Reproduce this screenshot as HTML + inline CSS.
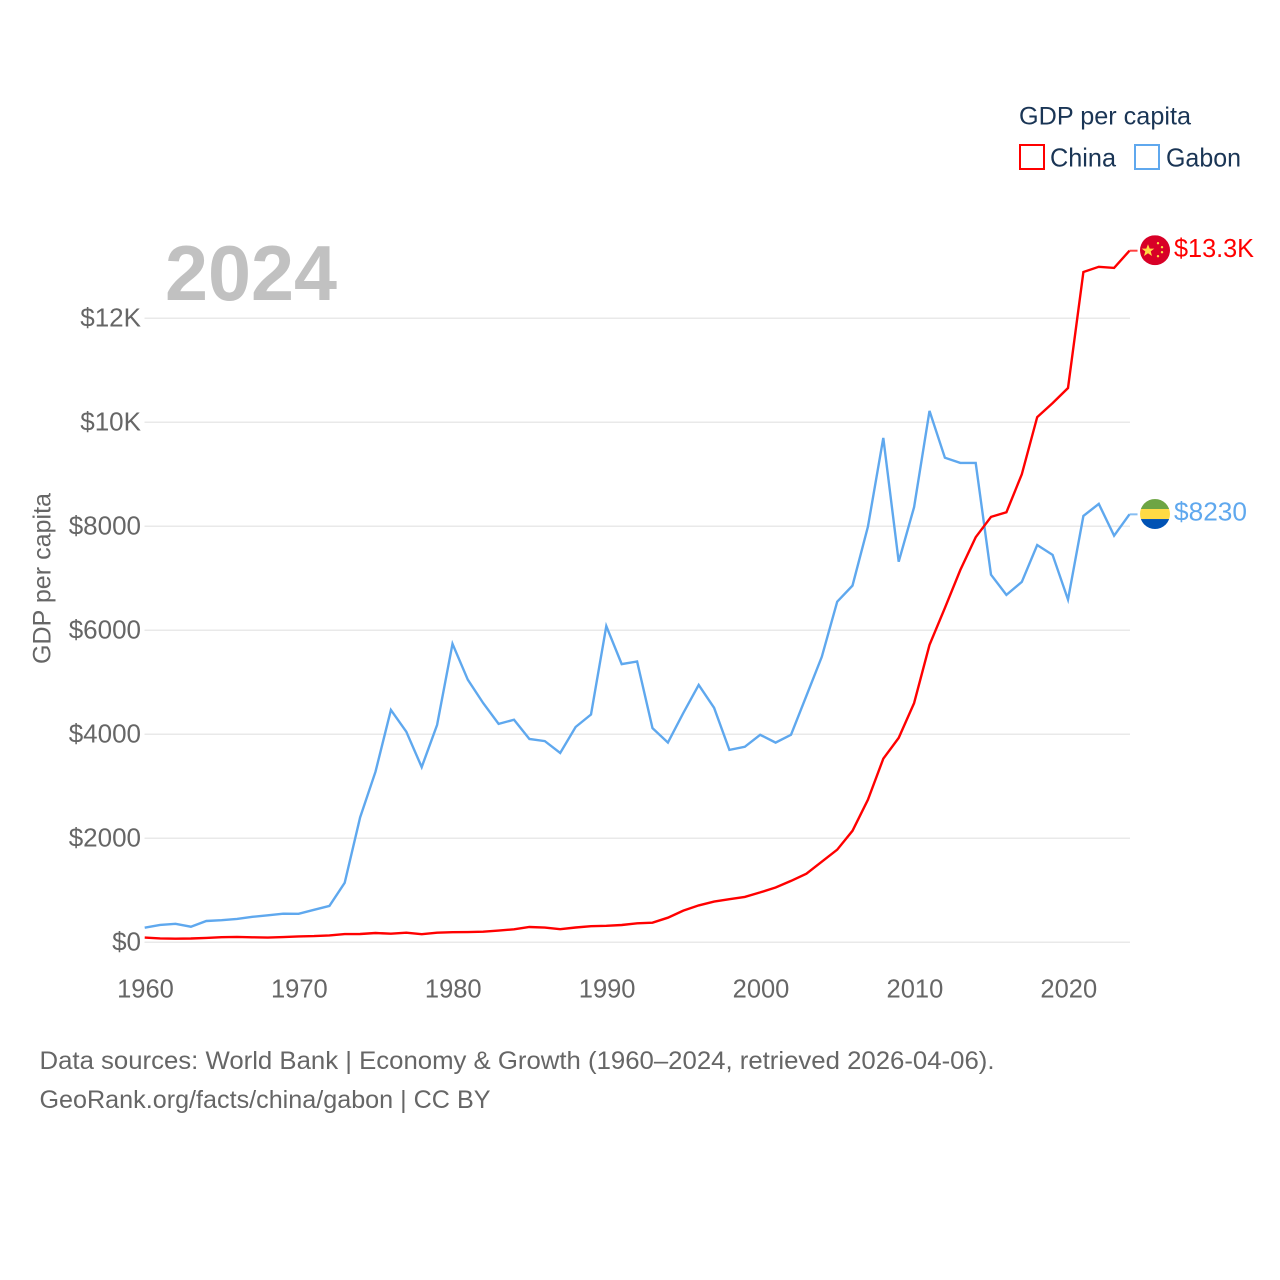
<!DOCTYPE html>
<html lang="en">
<head>
<meta charset="utf-8">
<title>GDP per capita: China and Gabon</title>
<style>
html,body{margin:0;padding:0;background:#fff}
svg{display:block}
text{font-family:"Liberation Sans",sans-serif}
</style>
</head>
<body>
<svg id="chart" xmlns="http://www.w3.org/2000/svg" width="1280" height="1280" viewBox="0 0 1280 1280">
  <defs>
    <clipPath id="flag-clip"><circle cx="0" cy="0" r="15"/></clipPath>
  </defs>
  <rect width="1280" height="1280" fill="#fff"/>
  <g id="grid"></g>
  <text x="165" y="300" font-size="78" font-weight="700" fill="#c1c1c1" textLength="172" lengthAdjust="spacingAndGlyphs">2024</text>
  <g id="y-ticks"></g>
  <g id="x-ticks"></g>
  <text transform="translate(50.500,664) rotate(-90)" font-size="25" fill="#666" textLength="171" lengthAdjust="spacingAndGlyphs">GDP per capita</text>
  <g id="series"></g>
  <g id="end-markers"></g>

  <g>
    <text x="1019" y="124.500" font-size="25" fill="#1a3555" textLength="172" lengthAdjust="spacingAndGlyphs">GDP per capita</text>
    <g>
      <rect x="1020" y="145" width="24" height="24" fill="none" stroke="#ff0000" stroke-width="2"/>
      <text x="1050" y="166.500" font-size="26" fill="#1a3555" textLength="66" lengthAdjust="spacingAndGlyphs">China</text>
    </g>
    <g>
      <rect x="1135" y="145" width="24" height="24" fill="none" stroke="#5fa8ee" stroke-width="2"/>
      <text x="1166" y="166.500" font-size="26" fill="#1a3555" textLength="75" lengthAdjust="spacingAndGlyphs">Gabon</text>
    </g>
  </g>

  <g>
    <text x="39.500" y="1069" font-size="25" fill="#666" textLength="955" lengthAdjust="spacingAndGlyphs">Data sources: World Bank | Economy &amp; Growth (1960–2024, retrieved 2026-04-06).</text>
    <text x="39.500" y="1108" font-size="25" fill="#666" textLength="451" lengthAdjust="spacingAndGlyphs">GeoRank.org/facts/china/gabon | CC BY</text>
  </g>
</svg>
<script>
const startYear = 1960;
const yTickValues = [0, 2000, 4000, 6000, 8000, 10000, 12000];
const yTickLabels = ["$0", "$2000", "$4000", "$6000", "$8000", "$10K", "$12K"];
const xTickYears = [1960, 1970, 1980, 1990, 2000, 2010, 2020];
const chinaValues = [90, 75, 70, 73, 85, 98, 104, 97, 91, 100, 113, 119, 132, 157, 160, 178, 165, 185, 156, 184, 195, 197, 203, 225, 250, 294, 282, 252, 284, 310, 318, 333, 366, 377, 473, 610, 709, 782, 829, 873, 959, 1053, 1180, 1320, 1550, 1780, 2145, 2740, 3530, 3930, 4600, 5720, 6430, 7160, 7790, 8180, 8270, 9000, 10100, 10370, 10660, 12890, 12990, 12970, 13300];
const gabonValues = [280, 335, 355, 300, 410, 425, 450, 490, 520, 550, 548, 625, 700, 1145, 2400, 3280, 4470, 4050, 3370, 4180, 5740, 5050, 4600, 4200, 4280, 3910, 3870, 3640, 4140, 4380, 6080, 5350, 5400, 4120, 3840, 4410, 4950, 4510, 3700, 3760, 3990, 3840, 3990, 4740, 5490, 6550, 6860, 7990, 9700, 7320, 8370, 10220, 9320, 9220, 9220, 7070, 6680, 6930, 7640, 7450, 6590, 8200, 8430, 7820, 8230];
const chinaEndLabel = "$13.3K";
const gabonEndLabel = "$8230";

const NS = "http://www.w3.org/2000/svg";
const xScale = function (year) { return 144.7 + (year - 1960) * 15.388; };
const yScale = function (value) { return 942.3 - value * 0.052; };

function mk(tag, parent, attrs) {
  const el = document.createElementNS(NS, tag);
  for (const k in attrs) el.setAttribute(k, attrs[k]);
  parent.appendChild(el);
  return el;
}

const gridG = document.getElementById("grid");
const yTickG = document.getElementById("y-ticks");
yTickValues.forEach(function (v, i) {
  const line = mk("line", gridG, { x1: 144.5, x2: 1130, y1: yScale(v), y2: yScale(v), stroke: "#e9e9e9", "stroke-width": 1.5 });
  
  
  const t = mk("text", yTickG, { x: 141, y: yScale(v) + 8, "text-anchor": "end", "font-size": 26, fill: "#666" });
  
  
  t.textContent = yTickLabels[i];
});

const xTickG = document.getElementById("x-ticks");
xTickYears.forEach(function (yr) {
  const t = mk("text", xTickG, { x: xScale(yr) + 0.8, y: 997.5, "text-anchor": "middle", "font-size": 25.5, fill: "#666" });
  
  
  t.textContent = String(yr);
});

function linePoints(values) {
  return values.map(function (v, i) {
    return xScale(startYear + i).toFixed(1) + "," + yScale(v).toFixed(1);
  }).join(" ");
}

const seriesG = document.getElementById("series");
const gabonLine = mk("polyline", seriesG, { points: linePoints(gabonValues), fill: "none", stroke: "#5fa8ee", "stroke-width": 2.4, "stroke-linejoin": "miter" });


const chinaLine = mk("polyline", seriesG, { points: linePoints(chinaValues), fill: "none", stroke: "#ff0000", "stroke-width": 2.4, "stroke-linejoin": "miter" });



const markerG = document.getElementById("end-markers");
const lastX = xScale(startYear + chinaValues.length - 1);

function endMarker(values, color) {
  const y = yScale(values[values.length - 1]);
  const stub = mk("line", markerG, { x1: lastX, x2: lastX + 8, y1: y, y2: y, stroke: color, "stroke-width": 2, "stroke-opacity": 0.75 });
  
  
  return y;
}

const chinaY = endMarker(chinaValues, "#ff0000");
const chinaFlag = mk("g", markerG, { transform: "translate(1155," + (chinaY - 0.5) + ")", "clip-path": "url(#flag-clip)" });


mk("rect", chinaFlag, { x: -15, y: -15, width: 30, height: 30, fill: "#d80027" });
mk("polygon", chinaFlag, { points: "-7,-6 -5.300,-1.600 -0.700,-1.600 -4.300,1.200 -3,5.800 -7,3.100 -11,5.800 -9.700,1.200 -13.300,-1.600 -8.700,-1.600", fill: "#ffda44" });
[[3, -7], [7, -3], [7, 2], [3, 6]].forEach(function (p) {
  mk("circle", chinaFlag, { cx: p[0], cy: p[1], r: 1.2, fill: "#ffda44" });
});
const chinaLabel = mk("text", markerG, { x: 1174, y: chinaY + 6.3, "font-size": 26, fill: "#ff0000", textLength: 80, lengthAdjust: "spacingAndGlyphs" });


chinaLabel.textContent = chinaEndLabel;

const gabonY = endMarker(gabonValues, "#5fa8ee");
const gabonFlag = mk("g", markerG, { transform: "translate(1155," + (gabonY - 0.3) + ")", "clip-path": "url(#flag-clip)" });


mk("rect", gabonFlag, { x: -15, y: -15, width: 30, height: 10, fill: "#6da544" });
mk("rect", gabonFlag, { x: -15, y: -5, width: 30, height: 10, fill: "#ffda44" });
mk("rect", gabonFlag, { x: -15, y: 5, width: 30, height: 10, fill: "#0052b4" });
const gabonLabel = mk("text", markerG, { x: 1174, y: gabonY + 6.3, "font-size": 26, fill: "#5fa8ee", textLength: 73, lengthAdjust: "spacingAndGlyphs" });


gabonLabel.textContent = gabonEndLabel;
</script>
</body>
</html>
